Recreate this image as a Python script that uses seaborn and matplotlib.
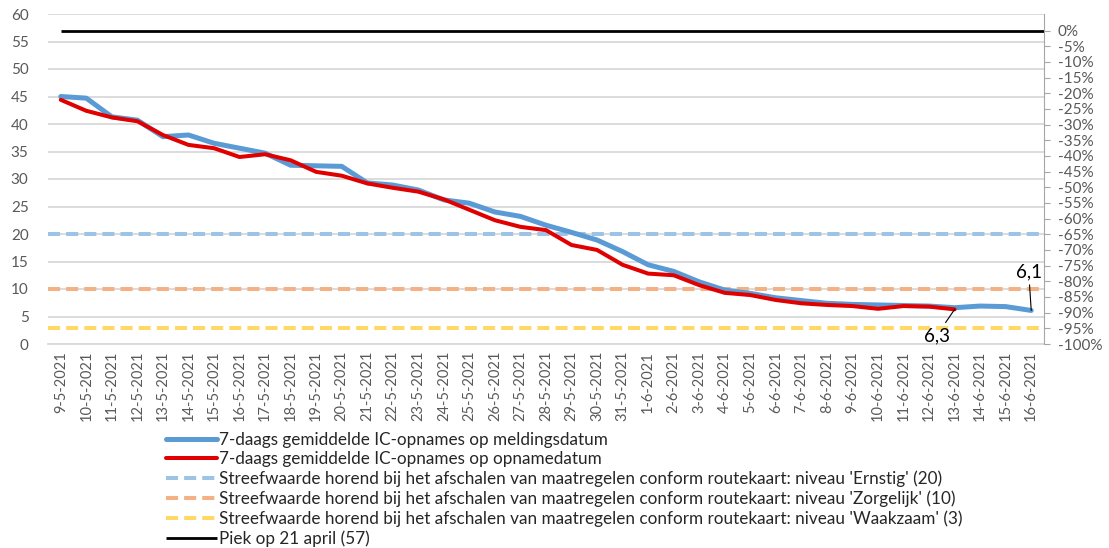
import numpy as np
import pandas as pd
import matplotlib
matplotlib.use("Agg")
import matplotlib.pyplot as plt
import seaborn as sns
from matplotlib.ticker import FuncFormatter, MultipleLocator

# ---- data -------------------------------------------------------------
dates = [
    "9-5-2021", "10-5-2021", "11-5-2021", "12-5-2021", "13-5-2021", "14-5-2021",
    "15-5-2021", "16-5-2021", "17-5-2021", "18-5-2021", "19-5-2021", "20-5-2021",
    "21-5-2021", "22-5-2021", "23-5-2021", "24-5-2021", "25-5-2021", "26-5-2021",
    "27-5-2021", "28-5-2021", "29-5-2021", "30-5-2021", "31-5-2021", "1-6-2021",
    "2-6-2021", "3-6-2021", "4-6-2021", "5-6-2021", "6-6-2021", "7-6-2021",
    "8-6-2021", "9-6-2021", "10-6-2021", "11-6-2021", "12-6-2021", "13-6-2021",
    "14-6-2021", "15-6-2021", "16-6-2021",
]
melding = [
    45.0, 44.7, 41.3, 40.7, 37.7, 38.0, 36.5, 35.6, 34.7, 32.5,
    32.4, 32.3, 29.3, 28.9, 28.0, 26.2, 25.6, 24.0, 23.2, 21.6,
    20.3, 18.9, 16.8, 14.4, 13.2, 11.3, 9.8, 9.2, 8.4, 7.9,
    7.4, 7.2, 7.1, 7.0, 6.9, 6.6, 6.9, 6.8, 6.1,
]
opname = [
    44.4, 42.4, 41.2, 40.5, 38.0, 36.2, 35.6, 34.0, 34.5, 33.4,
    31.3, 30.6, 29.2, 28.4, 27.7, 26.3, 24.4, 22.5, 21.3, 20.7,
    18.0, 17.1, 14.4, 12.8, 12.5, 10.7, 9.3, 8.9, 8.0, 7.4,
    7.1, 6.9, 6.4, 6.9, 6.8, 6.3,
]
target_levels = ["Ernstig", "Zorgelijk", "Waakzaam"]
target_values = [20, 10, 3]
peak_value = 57

label_melding = "7-daags gemiddelde IC-opnames op meldingsdatum"
label_opname = "7-daags gemiddelde IC-opnames op opnamedatum"
label_target = ("Streefwaarde horend bij het afschalen van maatregelen conform "
                "routekaart: niveau '{}' ({})")
label_peak = "Piek op 21 april ({})"

# ---- style ------------------------------------------------------------
sns.set_style("white")
plt.rcParams['font.family'] = ['Lato', 'DejaVu Sans']
text_grey = '#595959'
grid_grey = '#D9D9D9'
target_colors = ['#9DC3E6', '#F4B183', '#FFD966']

fig = plt.figure(figsize=(11.09, 5.48), dpi=100)
ax = fig.add_axes([48 / 1109, 1 - 344 / 548, (1044 - 48) / 1109, (344 - 14) / 548])

df_m = pd.DataFrame({'pos': np.arange(len(melding)), 'value': melding})
df_o = pd.DataFrame({'pos': np.arange(len(opname)), 'value': opname})

sns.lineplot(data=df_m, x='pos', y='value', ax=ax, color='#5B9BD5', lw=3.6,
             label=label_melding, zorder=4)
sns.lineplot(data=df_o, x='pos', y='value', ax=ax, color='#E00000', lw=2.9,
             label=label_opname, zorder=5)

for lvl, val, col in zip(target_levels, target_values, target_colors):
    ax.axhline(val, color=col, lw=2.9, dashes=(3, 1.5), zorder=3,
               label=label_target.format(lvl, val))

ax.hlines(peak_value, 0, len(dates) - 0.5, color='black', lw=2.0, zorder=3,
          label=label_peak.format(peak_value))

# axes
ax.set_xlim(-0.5, len(dates) - 0.5)
ax.set_ylim(0, 60)
ax.yaxis.set_major_locator(MultipleLocator(5))
ax.grid(axis='y', color=grid_grey, lw=1.3, zorder=0)
ax.set_xlabel('')
ax.set_ylabel('')
ax.set_xticks(np.arange(len(dates)))
ax.set_xticklabels(dates, rotation=90, fontsize=10.5, color=text_grey)
ax.set_xticks(np.arange(len(dates) + 1) - 0.5, minor=True)
ax.tick_params(axis='x', which='major', length=0, pad=5)
ax.tick_params(axis='x', which='minor', length=4, color=grid_grey, width=1)
ax.tick_params(axis='y', length=0, labelsize=11, labelcolor=text_grey, pad=14)
for s in ['top', 'right', 'left']:
    ax.spines[s].set_visible(False)
ax.spines['bottom'].set_color(grid_grey)
ax.spines['bottom'].set_linewidth(1.3)

# secondary axis: % relative to peak
ax2 = ax.twinx()
ax2.set_ylim((0 / peak_value - 1) * 100, (60 / peak_value - 1) * 100)
ax2.set_yticks(np.arange(-100, 1, 5))
ax2.yaxis.set_major_formatter(FuncFormatter(lambda v, p: f"{v:.0f}%"))
ax2.tick_params(axis='y', length=4, color='#A6A6A6', labelsize=11,
                labelcolor=text_grey, pad=6)
for s in ['top', 'left', 'bottom']:
    ax2.spines[s].set_visible(False)
ax2.spines['right'].set_color('#A6A6A6')

# end-value annotations
ax.annotate("6,1", xy=(len(melding) - 1, melding[-1]), xytext=(37.9, 11.6),
            fontsize=13.5, ha='center', va='bottom', color='black',
            arrowprops=dict(arrowstyle='-', color='black', lw=0.8,
                            shrinkA=1, shrinkB=0), zorder=6)
ax.annotate("6,3", xy=(len(opname) - 1, opname[-1]), xytext=(34.3, 0.0),
            fontsize=13.5, ha='center', va='bottom', color='black',
            arrowprops=dict(arrowstyle='-', color='black', lw=0.8,
                            shrinkA=1, shrinkB=0), zorder=6)

# legend below the plot
handles, labels = ax.get_legend_handles_labels()
leg = fig.legend(handles, labels, loc='upper left',
                 bbox_to_anchor=(166 / 1109, 1 - 432 / 548),
                 frameon=False, fontsize=12.3, handlelength=3.0, handletextpad=0.1,
                 labelspacing=0.2, borderaxespad=0, borderpad=0)
for t in leg.get_texts():
    t.set_color('#262626')
ax.legend_ = None

fig.savefig('out.png', dpi=100)
plt.close(fig)
